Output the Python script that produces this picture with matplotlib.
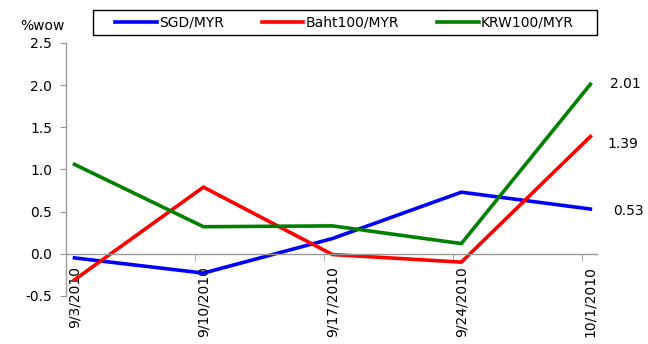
import numpy as np
import matplotlib.pyplot as plt
from matplotlib.patches import Rectangle

dates = ['9/3/2010', '9/10/2010', '9/17/2010', '9/24/2010', '10/1/2010']
sgd = [-0.05, -0.23, 0.18, 0.73, 0.53]
baht = [-0.31, 0.79, -0.01, -0.10, 1.39]
krw = [1.06, 0.32, 0.33, 0.12, 2.01]

plt.rcParams['font.family'] = 'DejaVu Sans'
plt.rcParams['font.size'] = 10

fig = plt.figure(figsize=(6.48, 3.44), dpi=100)
ax = fig.add_axes([0.102, 0.140, 0.819, 0.735])

x = np.arange(len(dates))
ax.plot(x, sgd, color='#0000ff', lw=2.6, label='SGD/MYR')
ax.plot(x, baht, color='#ff0000', lw=2.6, label='Baht100/MYR')
ax.plot(x, krw, color='#008000', lw=2.6, label='KRW100/MYR')

# end-of-series labels
ax.text(x[-1] + 0.15, krw[-1], '%.2f' % krw[-1], va='center', ha='left')
ax.text(x[-1] + 0.13, baht[-1] - 0.09, '%.2f' % baht[-1], va='center', ha='left')
ax.text(x[-1] + 0.18, sgd[-1] - 0.02, '%.2f' % sgd[-1], va='center', ha='left')

ax.set_xlim(-0.065, 4.05)
ax.set_ylim(-0.5, 2.5)
yt = [-0.5, 0.0, 0.5, 1.0, 1.5, 2.0, 2.5]
ax.set_yticks(yt)
ax.set_yticklabels(['%.1f' % v for v in yt])

ax.spines['top'].set_visible(False)
ax.spines['right'].set_visible(False)
ax.spines['bottom'].set_position(('data', 0))
for sp in ('left', 'bottom'):
    ax.spines[sp].set_color('#999999')
    ax.spines[sp].set_linewidth(1.0)

ax.set_xticks(x)
ax.set_xticklabels(dates, rotation=90, va='top', ha='center')
ax.tick_params(axis='x', length=0, pad=9)
ax.set_xticks(x - 0.065, minor=True)
ax.tick_params(axis='x', which='minor', length=5, color='#999999', direction='out')
ax.tick_params(axis='y', length=4, color='#999999', direction='out', pad=6)
for ln in ax.lines:
    ln.set_clip_on(False)

fig.text(0.031, 0.905, '%wow', ha='left', va='bottom')

# legend box
fig.patches.append(Rectangle((93 / 648, 1 - 35 / 344), 504 / 648, 25 / 344,
                             transform=fig.transFigure, fill=False,
                             edgecolor='black', linewidth=1.0))
fig.legend(loc='center left', ncol=3, bbox_to_anchor=(115 / 648, 1 - 22.5 / 344),
           frameon=False, handlelength=3.0, handletextpad=0.15,
           columnspacing=2.75, borderaxespad=0, borderpad=0)

fig.savefig('out.png', dpi=100)
